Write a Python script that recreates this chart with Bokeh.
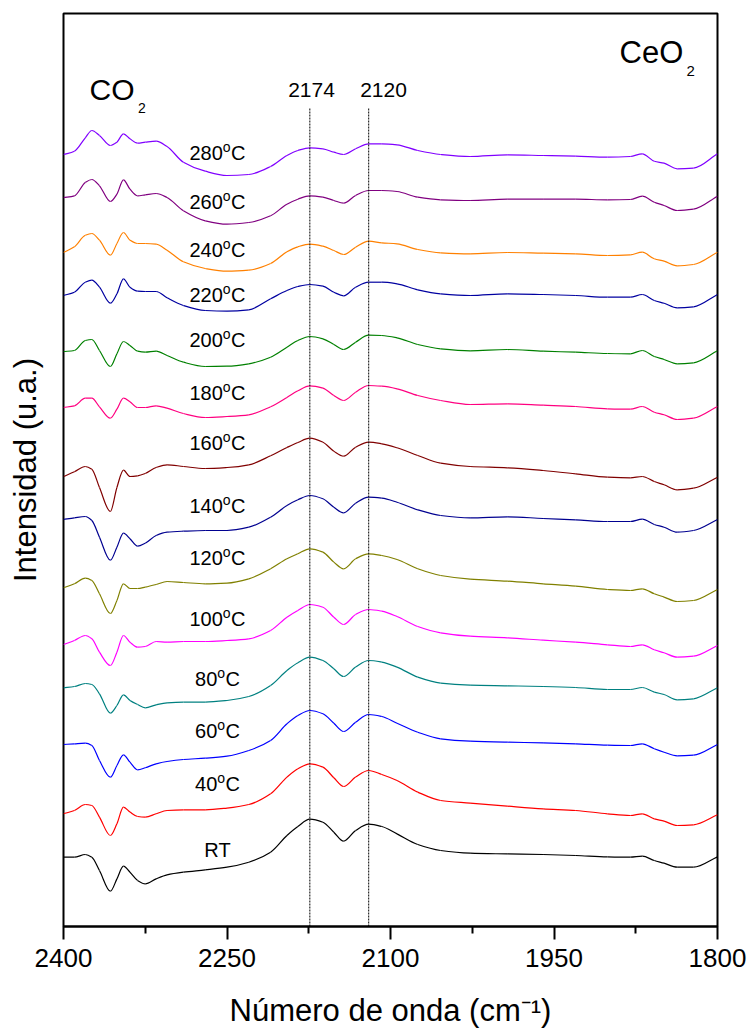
import math
from bokeh.plotting import figure
from bokeh.models import Range1d, FixedTicker, Label
from bokeh.embed import file_html
from bokeh.resources import INLINE

# ---------------- data ----------------
wavenumber = [2400, 2390, 2380, 2374, 2367, 2357, 2351, 2345, 2339, 2332, 2325,
              2315, 2305, 2290, 2270, 2250, 2230, 2210, 2195, 2185, 2174,
              2162, 2152, 2143, 2132, 2120, 2108, 2094, 2075, 2054, 2027,
              1993, 1960, 1930, 1901, 1880, 1869, 1858, 1849, 1837, 1822, 1800]

series_labels = ["RT", "40", "60", "80", "100", "120", "140",
                 "160", "180", "200", "220", "240", "260", "280"]
series_offsets = [69.3, 112.7, 182.0, 238.7, 282.0, 338.7, 407.0,
                  450.0, 519.0, 575.0, 631.0, 674.0, 729.0, 772.0]

int_RT = [0, 0, 2.7, 0, -13.3, -34, -21.7, -9, -15, -23.3, -26.7, -21.7, -17.7, -15, -12.7, -10, -5, 5, 21.7, 30.7, 38,
          35, 25, 16, 26.7, 33, 30.7, 23.3, 12.7, 6.7, 4, 3.3, 2.7, 1.7, 0.3, 0, 1, -3.3, -6, -10, -10, 0.3]
int_40 = [0, 3.3, 9.3, 8.3, -3.3, -21.7, -10, 6.7, 1.7, -2.7, -3.3, 0, 3.3, 4, 4, 5.7, 9.3, 20, 36.7, 45, 50,
          46.7, 36, 27.3, 36.7, 43.3, 39.3, 33.3, 21.7, 13.3, 10.7, 7.7, 5, 3.3, 0, -1.7, 0, -5, -7.3, -11.7, -11, -1]
int_60 = [0, 0.7, 1.3, -1, -16, -32.7, -21, -10.3, -17.7, -25.3, -23.3, -19.3, -17, -15, -13.7, -11.7, -6, 4, 20.7, 29, 34,
          30.7, 21.3, 13, 22.3, 30, 28, 21.3, 12.3, 5.7, 3.3, 2.3, 1.7, 0.7, -0.7, -1, 0.7, -4.3, -7.7, -11.3, -10.7, 0]
int_80 = [0, 1.3, 4.3, 3.3, -6, -25.3, -17.7, -7, -12.7, -16.7, -20, -17, -15, -14.3, -14.3, -12.7, -8.7, 2.3, 17.3, 25, 30.7,
          27.3, 19, 11.3, 20.7, 27.3, 25.7, 20.7, 10.7, 4.7, 2.7, 2, 1.3, 0.3, -1.7, -1.7, 0.3, -4.3, -6.7, -12, -11, 0]
int_100 = [0, 4, 9, 5.7, -7.7, -21, -7.7, 9, 2.3, -2.7, -2, 3, 2.3, 3, 3, 4, 5.7, 14, 27.3, 34, 40,
           37.3, 27.3, 20, 30, 35, 33.3, 28, 18, 11.7, 8.3, 6.7, 4.3, 2.3, -0.3, -2, -0.3, -5.3, -8.3, -12.7, -11.7, -1]
int_120 = [0, 4, 9.7, 7.3, -6, -25.7, -12.7, 4, -0.7, -0.7, 0.7, 3.3, 6.3, 5.3, 4, 4.7, 9, 19, 29, 34, 39,
           35.7, 25.7, 19, 29, 34, 32.3, 28.3, 19, 12.3, 8.7, 6.7, 4, 1.7, -1.7, -2.7, -1, -6, -9.3, -13.7, -12.7, -1.7]
int_140 = [0, 1.7, 3, -1, -17.7, -40.7, -27.7, -13.7, -19.3, -26.7, -23.7, -16, -12.7, -11.7, -11, -11, -7.7, 2.3, 14, 19.7, 24,
           20.7, 12.3, 6.7, 16.3, 22.3, 21.3, 17.3, 9.7, 4, 1.7, 2.7, 1, -0.3, -2, -2, 0.3, -5, -7.7, -12.7, -11, 0]
int_160 = [0, 4.7, 10, 7.3, -11, -35, -11, 6.3, 0, 0.7, 3, 9, 11.7, 10, 8, 9, 11.7, 20.7, 29, 34, 38.3,
           34.3, 25.3, 20.3, 29.3, 34.3, 32.7, 28.7, 21, 13.3, 10, 8.7, 6, 2.7, -0.7, -1.3, 0, -5, -8.3, -13.3, -11.7, -0.7]
int_180 = [0, 1.7, 9.3, 9.3, 0.7, -10.7, -1.7, 9.3, 5.7, 0, 0, 1.7, -0.7, -6, -10, -9, -7.3, 0.7, 10, 16.7, 21.7,
           19.3, 12, 7, 15.3, 22, 21.3, 18.7, 12, 7, 3, 3.7, 2.3, 1, -1.3, -1.7, 1, -4.7, -7.3, -12, -10.7, 1]
int_200 = [0, 1, 11, 12, 1, -15, -2.3, 10, 6, 0.3, -0.7, 0.3, -4, -10.7, -15, -14.7, -12.3, -5.7, 4.3, 11, 15,
           12.7, 7, 2, 9.3, 16.3, 16, 13.7, 7, 2.7, 0.7, 2, 0.3, -0.7, -2, -2.3, 1, -5, -8, -12.3, -11.3, 0.7]
int_220 = [0, 3.3, 13.3, 15.3, 8.3, -7.7, 1.7, 16.7, 8.3, 4.3, 4, 4, -2.3, -10, -15, -15.7, -14.3, -3.3, 5, 9, 11,
           9.3, 3.3, -0.3, 8.3, 13.3, 13.3, 11.7, 5.7, 1.7, 0, 1.7, 1, 0, -1.7, -1.7, 1, -5, -7.7, -12.3, -11.3, 1]
int_240 = [0, 5.7, 17.3, 19, 12.3, -2.7, 9, 20, 12.3, 9, 9, 8.3, 2.3, -9.3, -16, -18.7, -17.7, -11, 0.7, 5.7, 8.3,
           6.3, 2, -2, 5.3, 11.3, 9.7, 8.7, 3, -0.3, -1.3, 0, -0.7, -1.3, -3, -2.3, 0.3, -6.3, -8.7, -13.3, -12, 0.3]
int_260 = [0, 1.7, 15, 18, 11.7, -4, 3.3, 17.7, 8.3, 1.7, 2.7, 4, 0, -13.3, -23.3, -26.7, -25, -18.3, -6.7, -1.7, 1.7,
           0.3, -3, -5.7, 2, 7, 7, 6, 0.3, -2.3, -3, -1.7, -1.7, -1.7, -2.3, -2, 1.3, -4.7, -8, -13, -11.7, 1.3]
int_280 = [0, 3.3, 16.7, 24, 19, 9, 12.3, 20.7, 15.7, 11.3, 12.3, 13.3, 8, -7.7, -16.7, -21, -20, -12, -1, 4, 6.7,
           5.7, 2.3, 0, 5.7, 10.7, 10.7, 9.7, 4, 0, -2, -0.3, -1, -1.7, -2.7, -2, 0.7, -6.7, -8.7, -14.3, -13.7, 0.7]

peak_positions = [2174, 2120]
x_ticks = [2400, 2250, 2100, 1950, 1800]
x_minor_ticks = [2325, 2175, 2025, 1875]

# ---------------- styling / layout ----------------
intensities = [int_RT, int_40, int_60, int_80, int_100, int_120, int_140,
               int_160, int_180, int_200, int_220, int_240, int_260, int_280]
colors = ["#000000", "#FF0000", "#0000FF", "#008080", "#FF00FF", "#808000", "#000090",
          "#800000", "#FF0080", "#008000", "#0000A0", "#FF8000", "#800080", "#8000FF"]
label_dy = [7.5, 30, 13.5, 9, 25.7, 29.8, 14, 33.5, 14.5, 11.3, 0.8, 2.3, -4.8, 1.5]

FONT = "Liberation Sans"
W, H = 749, 1031
L, R, T, B = 63, 32, 13, 105
FW, FH = W - L - R, H - T - B
XL, XR = 2400, 1800


def wx(px):
    return XL - (px - L) * (XL - XR) / FW


def wy(py):
    return (T + FH) - py


p = figure(width=W, height=H, x_range=Range1d(XL, XR), y_range=Range1d(0, FH),
           output_backend="svg", toolbar_location=None,
           min_border_left=L, min_border_right=R, min_border_top=T, min_border_bottom=B)
p.background_fill_color = "white"
p.border_fill_color = "white"
p.xgrid.visible = False
p.ygrid.visible = False
p.outline_line_color = "black"
p.outline_line_width = 2
p.outline_line_alpha = 1.0

ax = p.xaxis[0]
ax.ticker = FixedTicker(ticks=x_ticks, minor_ticks=x_minor_ticks)
ax.axis_line_width = 2
ax.axis_line_color = "black"
ax.major_tick_line_width = 2
ax.minor_tick_line_width = 2
ax.major_tick_in = 0
ax.major_tick_out = 13
ax.minor_tick_in = 0
ax.minor_tick_out = 7
ax.major_label_text_font = FONT
ax.major_label_text_font_size = "26px"
ax.major_label_text_color = "black"
ax.major_label_standoff = 9
ax.axis_label = "Número de onda (cm⁻¹)"
ax.axis_label_text_font = FONT
ax.axis_label_text_font_size = "31px"
ax.axis_label_text_font_style = "normal"
ax.axis_label_text_color = "black"
ax.axis_label_standoff = 23

ay = p.yaxis[0]
ay.ticker = FixedTicker(ticks=[])
ay.axis_line_color = None
ay.major_tick_out = 0
ay.major_tick_in = 0
ay.minor_tick_out = 0
ay.minor_tick_in = 0
ay.major_label_standoff = 0
ay.major_label_text_font_size = "0px"
ay.axis_label = "Intensidad (u.a.)"
ay.axis_label_text_font = FONT
ay.axis_label_text_font_size = "31px"
ay.axis_label_text_font_style = "normal"
ay.axis_label_text_color = "black"
ay.axis_label_standoff = 21


def smooth_segments(xs, ys):
    """Monotone cubic (PCHIP) Bezier segments through the read points."""
    n = len(xs)
    h = [xs[i + 1] - xs[i] for i in range(n - 1)]
    d = [(ys[i + 1] - ys[i]) / h[i] for i in range(n - 1)]
    m = [0.0] * n
    m[0], m[-1] = d[0], d[-1]
    for i in range(1, n - 1):
        if d[i - 1] * d[i] <= 0:
            m[i] = 0.0
        else:
            w1 = 2 * h[i] + h[i - 1]
            w2 = h[i] + 2 * h[i - 1]
            m[i] = (w1 + w2) / (w1 / d[i - 1] + w2 / d[i])
    seg = dict(x0=[], y0=[], x1=[], y1=[], cx0=[], cy0=[], cx1=[], cy1=[])
    for i in range(n - 1):
        seg["x0"].append(xs[i]); seg["y0"].append(ys[i])
        seg["x1"].append(xs[i + 1]); seg["y1"].append(ys[i + 1])
        seg["cx0"].append(xs[i] + h[i] / 3); seg["cy0"].append(ys[i] + m[i] * h[i] / 3)
        seg["cx1"].append(xs[i + 1] - h[i] / 3); seg["cy1"].append(ys[i + 1] - m[i + 1] * h[i] / 3)
    return seg


# spectra
for ys, off, col in zip(intensities, series_offsets, colors):
    s = smooth_segments(wavenumber, [off + v for v in ys])
    p.bezier(**s, line_color=col, line_width=1.2)

# peak marker lines
p.segment(x0=peak_positions, y0=[0, 0], x1=peak_positions, y1=[wy(108), wy(108)],
          line_color="black", line_width=1, line_dash="2 1")


def add_text(x, y, txt, size, align="left", baseline="middle", angle=0.0):
    p.add_layout(Label(x=x, y=y, text=txt, text_font=FONT, text_font_size=f"{size}px",
                       text_align=align, text_baseline=baseline, angle=angle,
                       text_color="black"))


# temperature labels (number + superscript o + C)
FS, FS_O = 20, 14
for lab, off, dy in zip(series_labels, series_offsets, label_dy):
    cy = off + dy
    if lab == "RT":
        add_text(wx(217), cy, "RT", FS, align="center")
    else:
        num_w = len(lab) * 0.556 * FS
        o_w = 0.556 * FS_O + 0.5
        c_w = 0.722 * FS
        start = 217 - (num_w + o_w + c_w) / 2
        add_text(wx(start), cy, lab, FS)
        add_text(wx(start + num_w), cy + 6, "o", FS_O)
        add_text(wx(start + num_w + o_w), cy, "C", FS)

# peak labels
add_text(wx(311), wy(89), "2174", 21, align="center")
add_text(wx(383), wy(89), "2120", 21, align="center")

# CO2 and CeO2
add_text(wx(89), wy(89), "CO", 30)
add_text(wx(137.5), wy(107.5), "2", 14)
add_text(wx(619), wy(51.5), "CeO", 31)
add_text(wx(686), wy(70.5), "2", 15)

open("out.html", "w").write(file_html(p, INLINE))
